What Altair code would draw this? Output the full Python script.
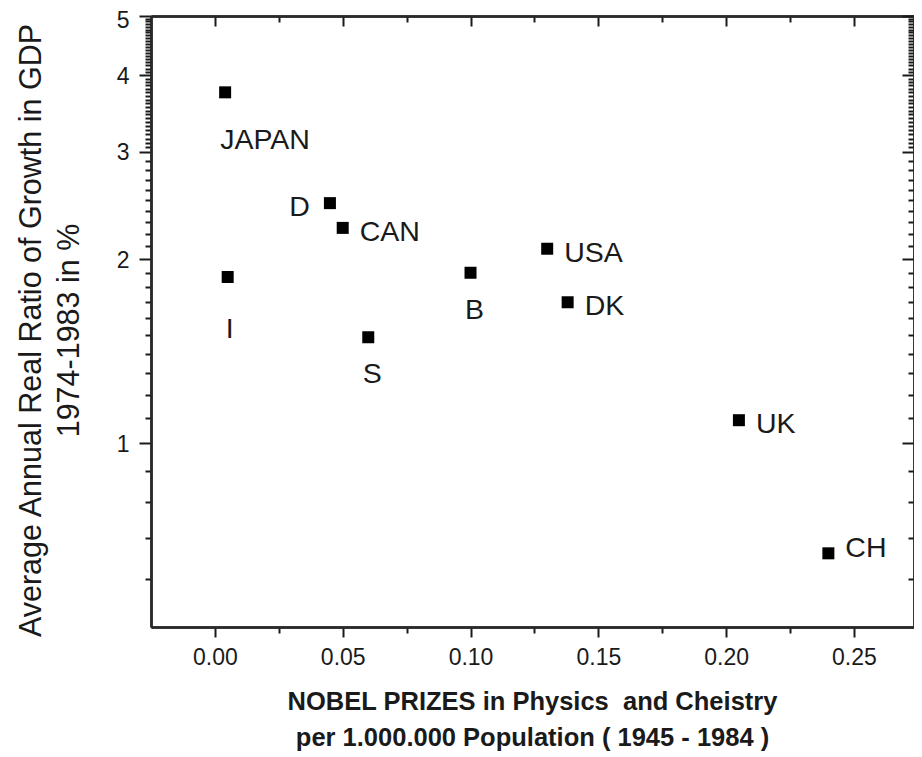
import altair as alt
import pandas as pd

# ---- data ----
countries = ["JAPAN", "I", "D", "CAN", "S", "B", "USA", "DK", "UK", "CH"]
nobel = [0.004, 0.005, 0.045, 0.050, 0.060, 0.100, 0.130, 0.138, 0.205, 0.240]
growth = [3.75, 1.87, 2.47, 2.25, 1.49, 1.90, 2.08, 1.70, 1.09, 0.66]
place = ["BL", "BB", "L", "R", "B", "B", "R", "R", "R", "RU"]

# ---- tick values ----
x_major = [0.00, 0.05, 0.10, 0.15, 0.20, 0.25]
x_minor = [0.025, 0.075, 0.125, 0.175, 0.225]
y_major = [1, 2, 3, 4, 5]
y_minor = ([0.6, 0.7, 0.8, 0.9]
           + [round(1 + 0.1 * i, 2) for i in range(1, 10)]
           + [round(2 + 0.1 * i, 2) for i in range(1, 10)]
           + [round(3 + 0.05 * i, 2) for i in range(1, 20)]
           + [round(4 + 0.05 * i, 2) for i in range(1, 20)])

x_title = ["NOBEL PRIZES in Physics\u00a0 and Cheistry",
           "per 1.000.000 Population ( 1945 - 1984 )"]
y_title = ["Average Annual Real Ratio of Growth in GDP", "1974-1983 in %"]

df = pd.DataFrame({"country": countries, "nobel": nobel, "growth": growth, "place": place})

FONT = "Liberation Sans"
INK = "#1a1a1a"
xs = alt.Scale(domain=[-0.025, 0.2735], nice=False, zero=False)
ys = alt.Scale(type="log", domain=[0.5, 5], nice=False)

common = dict(grid=False, domainColor="#2a2a2a", domainWidth=2.5, tickColor=INK, tickWidth=2,
              labelFont=FONT, labelColor=INK, titleFont=FONT, titleColor=INK)

base = alt.Chart(df)

# points with bottom/left major axes
pts = base.mark_square(size=144, color="black", opacity=1).encode(
    x=alt.X("nobel:Q", scale=xs, axis=alt.Axis(
        orient="bottom", values=x_major, format=".2f", tickSize=10,
        labelFontSize=23, labelPadding=9, title=x_title, titleFontSize=25.5,
        titleFontWeight="bold", titleLineHeight=36, titleX=381, titleY=62,
        titleAlign="center", titleBaseline="top", **common)),
    y=alt.Y("growth:Q", scale=ys, axis=alt.Axis(
        orient="left", values=y_major, format="d", tickSize=12,
        labelFontSize=23, labelPadding=10,
        labelOffset={"condition": {"test": "datum.value >= 5", "value": 4}, "value": 1},
        title=y_title, titleFontSize=30.5,
        titleFontWeight="normal", titleAngle=270, titleX=-135, titleY=314,
        titleAlign="center", titleBaseline="top", titleLineHeight=38, **common)),
)

def tick_layer(xorient, yorient, xvals, yvals, xsize, ysize):
    return base.mark_square(opacity=0).encode(
        x=alt.X("nobel:Q", scale=xs, axis=alt.Axis(
            orient=xorient, values=xvals, tickSize=xsize, labels=False, title=None,
            **common)),
        y=alt.Y("growth:Q", scale=ys, axis=alt.Axis(
            orient=yorient, values=yvals, tickSize=ysize, labels=False, title=None,
            **common)),
    )

minor_bl = tick_layer("bottom", "left", x_minor, y_minor, 6, 6)
major_tr = tick_layer("top", "right", x_major, y_major, {"expr": "-10"}, {"expr": "-12"})
minor_tr = tick_layer("top", "right", x_minor, y_minor, {"expr": "-6"}, {"expr": "-6"})

def label_layer(code, align, dx, dy):
    return base.transform_filter(alt.datum.place == code).mark_text(
        font=FONT, fontSize=28.5, color=INK, align=align, baseline="middle", dx=dx, dy=dy
    ).encode(
        x=alt.X("nobel:Q", scale=xs, axis=None),
        y=alt.Y("growth:Q", scale=ys, axis=None),
        text="country:N",
    )

labels = [
    label_layer("R", "left", 17, 4),
    label_layer("RU", "left", 17, -5),
    label_layer("L", "right", -20, 4),
    label_layer("B", "center", 4, 37),
    label_layer("BB", "center", 2, 52),
    label_layer("BL", "left", -5, 48),
]

chart = alt.layer(pts, minor_bl, major_tr, minor_tr, *labels).resolve_axis(
    x="independent", y="independent"
).properties(
    width=763, height=611,
    autosize=alt.AutoSizeParams(type="none"),
    padding={"left": 143, "top": 8, "right": 0, "bottom": 130},
).configure_view(stroke=None).configure(background="white")

chart.save("out.html", embed_options={"renderer": "svg", "actions": False})
